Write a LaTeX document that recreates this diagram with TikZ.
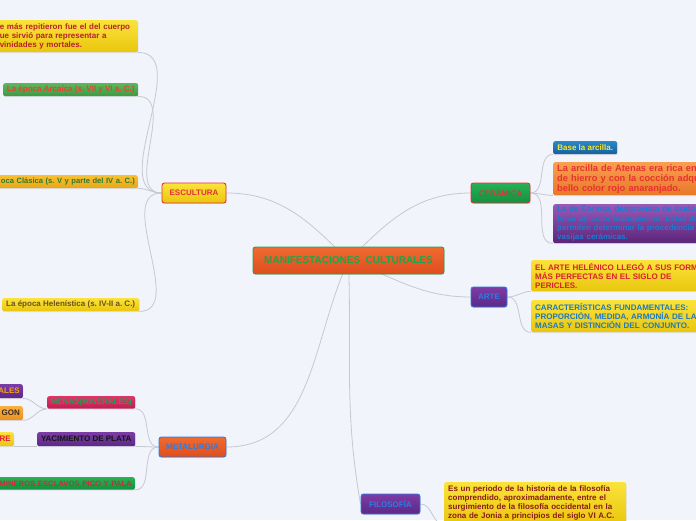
\documentclass[tikz,border=0pt]{standalone}
\usepackage{fontspec}
\setmainfont{Liberation Sans}
\usetikzlibrary{shadows}
\pgfdeclarelayer{bg}
\pgfdeclarelayer{edges}
\pgfsetlayers{bg,edges,main}

\definecolor{bgc}{HTML}{F2F4FC}
\definecolor{linec}{HTML}{C6C8D2}
\definecolor{orT}{HTML}{F06A30}\definecolor{orB}{HTML}{DE4E1E}
\definecolor{ylT}{HTML}{FBE33A}\definecolor{ylB}{HTML}{E9C60E}
\definecolor{ptT}{HTML}{7C3CA6}\definecolor{ptB}{HTML}{5C2886}
\definecolor{grT}{HTML}{26B255}\definecolor{grB}{HTML}{148F40}
\definecolor{mgreen}{HTML}{22A24A}
\definecolor{mred}{HTML}{E4303C}
\definecolor{mblue}{HTML}{2E7CE0}

\tikzset{
  box/.style={rectangle, rounded corners=2pt, inner xsep=3pt, inner ysep=1pt,
    font=\fontsize{8}{9}\selectfont\bfseries\frenchspacing,
    drop shadow={opacity=0.18, shadow xshift=0.5pt, shadow yshift=-0.9pt}},
  lvl/.style={box, line width=0.9pt, rounded corners=2.5pt, minimum height=20pt},
  yl/.style={top color=ylT, bottom color=ylB},
  orng/.style={top color=orT, bottom color=orB},
  purp/.style={top color=ptT, bottom color=ptB},
  grn/.style={top color=grT, bottom color=grB},
  conn/.style={draw=linec, line width=0.8pt},
}

\begin{document}
\frenchspacing
\begin{tikzpicture}[x=1pt,y=-1pt]
\useasboundingbox (0,0) rectangle (696,520);
\begin{pgfonlayer}{bg}
\fill[bgc] (0,0) rectangle (696,520);
\end{pgfonlayer}
\clip (0,0) rectangle (696,520);

% central
\node[lvl, orng, draw=mgreen, text=mgreen, minimum width=191pt, minimum height=27pt,
  font=\fontsize{10}{12}\selectfont\bfseries] (mc) at (348.5,260.5) {MANIFESTACIONES\ \ CULTURALES};

% level 1
\node[lvl, yl, draw=mred, text=mred, minimum width=64pt] (esc) at (194,193) {ESCULTURA};
\node[lvl, orng, draw=mblue, text=mblue, minimum width=67pt] (met) at (192.5,447) {METALURGIA};
\node[lvl, purp, draw=mblue, text=mblue, minimum width=59pt] (fil) at (390.5,504) {FILOSOFÍA};
\node[lvl, grn, draw=mred, text=mred, minimum width=59pt] (cer) at (500.5,193) {CERÁMICA};
\node[lvl, purp, draw=mblue, text=mblue, minimum width=36pt] (arte) at (489,297) {ARTE};

% escultura children
\node[box, yl, text={rgb,255:red,184;green,32;blue,42}, anchor=north east, text width=135pt, align=left, minimum height=32pt] (e1) at (138,20)
  {\mbox{e más repitieron fue el del cuerpo}\\\mbox{ue sirvió para representar a}\\\mbox{vinidades y mortales.}};
\node[box, top color={rgb,255:red,92;green,184;blue,92}, bottom color={rgb,255:red,62;green,154;blue,66}, text={rgb,255:red,232;green,64;blue,56},
  anchor=north west, minimum width=135pt, minimum height=13pt] (e2) at (3,83) {La época Arcaica (s. VII y VI a. C.)};
\node[box, top color={rgb,255:red,248;green,192;blue,48}, bottom color={rgb,255:red,232;green,166;blue,24}, text={rgb,255:red,46;green,122;blue,48},
  anchor=north east, text width=200pt, align=right, minimum height=13pt,
  font=\fontsize{7.6}{9}\selectfont\bfseries] (e3) at (138,175) {\mbox{oca Clásica (s. V y parte del IV a. C.)}};
\node[box, yl, text={rgb,255:red,107;green,80;blue,32}, anchor=north west, minimum width=137pt, minimum height=13pt] (e4) at (2,298)
  {La época Helenística (s. IV-II a. C.)};

% metalurgia children
\node[box, top color={rgb,255:red,226;green,50;blue,106}, bottom color={rgb,255:red,190;green,30;blue,80}, text={rgb,255:red,32;green,160;blue,80},
  anchor=north west, minimum width=88pt, minimum height=12.5pt] (m1) at (47,396) {MENAS(MINERALES)};
\node[box, purp, text={rgb,255:red,21;green,21;blue,21}, anchor=north west, minimum width=98pt, minimum height=14pt] (m2) at (37,432)
  {YACIMIENTO DE PLATA};
\node[box, grn, text={rgb,255:red,208;green,42;blue,58}, anchor=north east, text width=200pt, align=right, minimum height=12.5pt,
  font=\fontsize{7.7}{9}\selectfont\bfseries] (m3) at (135,477)
  {\mbox{MINEROS ESCLAVOS PICO Y PALA}};
\node[box, purp, text={rgb,255:red,245;green,160;blue,32}, anchor=north east, text width=60pt, align=right, minimum height=14pt] (m1a) at (23,384) {ALES};
\node[box, top color={rgb,255:red,248;green,176;blue,64}, bottom color={rgb,255:red,232;green,144;blue,32}, text={rgb,255:red,58;green,42;blue,32},
  anchor=north east, text width=60pt, align=right, minimum height=14pt] (m1b) at (23,406) {GON};
\node[box, yl, text={rgb,255:red,224;green,32;blue,48}, anchor=north east, text width=60pt, align=right, minimum height=14pt] (m2a) at (14,432) {RE};

% ceramica children
\node[box, top color={rgb,255:red,42;green,136;blue,200}, bottom color={rgb,255:red,22;green,96;blue,154}, text={rgb,255:red,248;green,232;blue,48},
  anchor=north west, minimum width=64pt, minimum height=13pt] (c1) at (553,141) {Base la arcilla.};
\node[box, top color={rgb,255:red,248;green,160;blue,80}, bottom color={rgb,255:red,232;green,120;blue,40}, text={rgb,255:red,232;green,48;blue,48},
  anchor=north west, inner xsep=4pt, text width=200pt, align=left, minimum height=33pt, font=\fontsize{9.3}{10}\selectfont\bfseries] (c2) at (553,162)
  {\mbox{La arcilla de Atenas era rica en}\\\mbox{de hierro y con la cocción adqu}\\\mbox{bello color rojo anaranjado.}};
\node[box, top color={rgb,255:red,154;green,90;blue,184}, bottom color={rgb,255:red,90;green,36;blue,120}, text={rgb,255:red,30;green,122;blue,208},
  anchor=north west, inner xsep=4pt, text width=200pt, align=left, minimum height=39pt, font=\fontsize{8}{9.3}\selectfont\bfseries] (c3) at (553,204)
  {\mbox{La de Corinto, desprovista de óxido}\\\mbox{tenía un color blanquecino. Estas dif}\\\mbox{permiten determinar la procedencia}\\\mbox{vasijas cerámicas.}};

% arte children
\node[box, yl, text={rgb,255:red,216;green,32;blue,46}, anchor=north west, inner xsep=4pt, text width=200pt, align=left, minimum height=31pt] (a1) at (531,260)
  {\mbox{EL ARTE HELÉNICO LLEGÓ A SUS FORMAS}\\\mbox{MÁS PERFECTAS EN EL SIGLO DE}\\\mbox{PERICLES.}};
\node[box, yl, text={rgb,255:red,30;green,120;blue,192}, anchor=north west, inner xsep=4pt, text width=200pt, align=left, minimum height=32pt] (a2) at (531,300)
  {\mbox{CARACTERÍSTICAS FUNDAMENTALES:}\\\mbox{PROPORCIÓN, MEDIDA, ARMONÍA DE LAS}\\\mbox{MASAS Y DISTINCIÓN DEL CONJUNTO.}};

% filosofia child
\node[box, yl, text={rgb,255:red,138;green,26;blue,26}, anchor=north west, inner xsep=4pt, text width=174pt, align=left, minimum height=42pt] (f1) at (444,482)
  {Es un periodo de la historia de la filosofía\\comprendido, aproximadamente, entre el\\surgimiento de la filosofía occidental en la\\zona de Jonia a principios del siglo VI A.C.};

% connectors
\begin{pgfonlayer}{edges}
\draw[conn] (mc.center) to[out=135,in=0] (esc.east);
\draw[conn] (mc.center) to[out=45,in=180] (cer.west);
\draw[conn] (mc.center) to[out=-20,in=180] (arte.west);
\draw[conn] (mc.center) to[out=-115,in=0] (met.east);
\draw[conn] (mc.center) to[out=-88,in=100] (fil.west);

\draw[conn] (esc.west) to[out=180,in=0] (e1.south east);
\draw[conn] (esc.west) to[out=180,in=0] (e2.south east);
\draw[conn] (esc.west) to[out=180,in=0] (e3.south east);
\draw[conn] (esc.west) to[out=180,in=0] (e4.south east);

\draw[conn] (met.west) to[out=180,in=0] (m1.south east);
\draw[conn] (met.west) to[out=180,in=0] (m2.south east);
\draw[conn] (met.west) to[out=180,in=0] (m3.south east);
\draw[conn] (m1.south west) to[out=180,in=0] (m1a.south east);
\draw[conn] (m1.south west) to[out=180,in=0] (m1b.south east);
\draw[conn] (m2.south west) -- (m2a.south east);

\draw[conn] (cer.east) to[out=0,in=180] (c1.south west);
\draw[conn] (cer.east) to[out=0,in=180] (c2.south west);
\draw[conn] (cer.east) to[out=0,in=180] (c3.south west);

\draw[conn] (arte.east) to[out=0,in=180] (a1.south west);
\draw[conn] (arte.east) to[out=0,in=180] (a2.south west);

\draw[conn] (fil.east) to[out=0,in=180] (f1.south west);
\end{pgfonlayer}
\end{tikzpicture}
\end{document}
